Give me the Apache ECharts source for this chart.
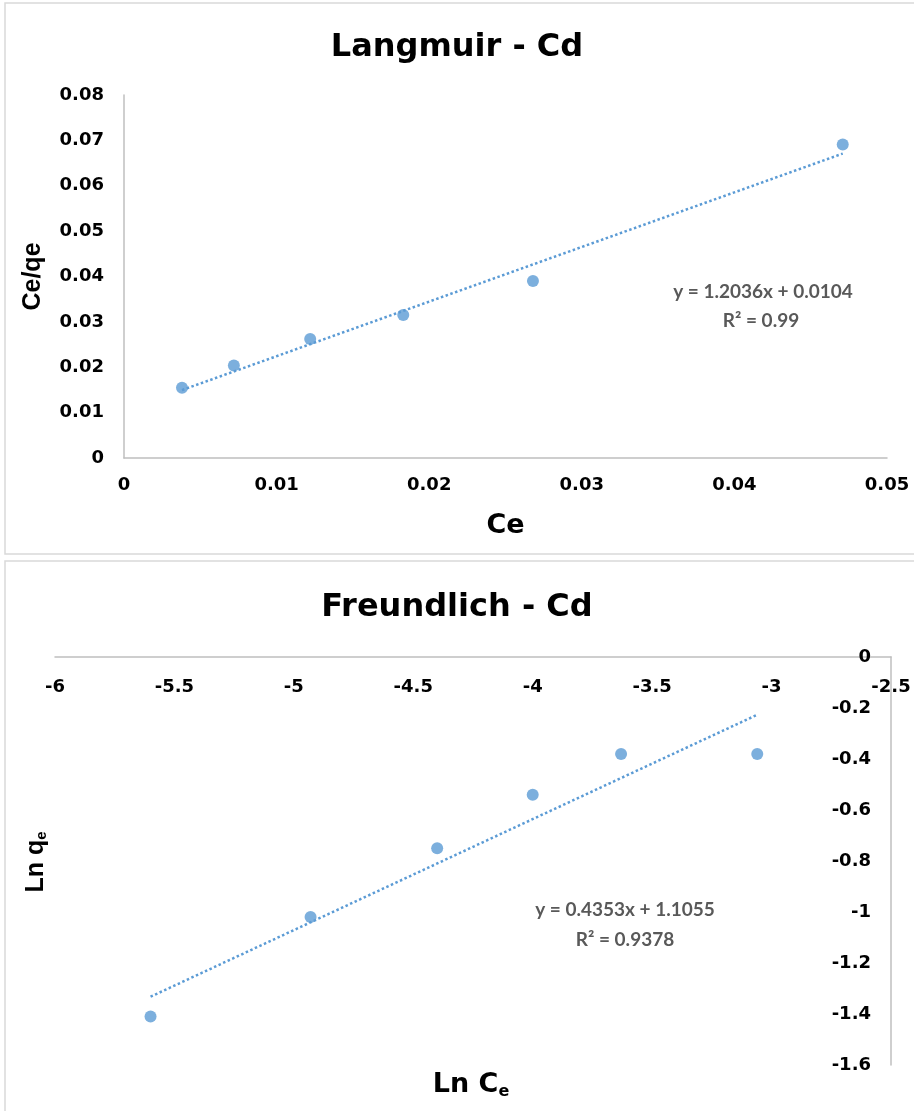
<!DOCTYPE html>
<html>
<head>
<meta charset="utf-8">
<script src="https://cdn.jsdelivr.net/npm/echarts@6/dist/echarts.min.js"></script>
<style>
  html, body { margin: 0; padding: 0; background: #fff; }
  #chart { width: 914px; height: 1111px; }
</style>
</head>
<body>
<div id="chart"></div>
<script>
// Langmuir isotherm for Cd: Ce against Ce/qe
const langCe   = [0.0038, 0.0072, 0.0122, 0.0183, 0.0268, 0.0471];
const langCeQe = [0.0155, 0.0204, 0.0262, 0.0315, 0.0390, 0.0691];
const langSlope = 1.2036, langIntercept = 0.0104, langR2 = '0.99';

// Freundlich isotherm for Cd: ln Ce against ln qe
const frLnCe = [-5.60, -4.93, -4.40, -4.00, -3.63, -3.06];
const frLnQe = [-1.41, -1.02, -0.75, -0.54, -0.38, -0.38];
const frSlope = 0.4353, frIntercept = 1.1055, frR2 = '0.9378';

const BLUE = '#5B9BD5';
const AXIS_GREY = '#bfbfbf';
const WIDE = '"DejaVu Sans", Verdana, sans-serif';
const NARROW = '"Liberation Sans", Arial, sans-serif';
const TICK_FONT = { color: '#000', fontWeight: 'bold', fontSize: 18, fontFamily: WIDE };
const TITLE_FONT = { color: '#000', fontWeight: 'bold', fontSize: 32, fontFamily: WIDE };
const EQ_FONT = 'bold 19px Lato, "Open Sans", sans-serif';

const pairs = (xs, ys) => xs.map((x, i) => [x, ys[i]]);
// Linear trendline spanning the x-range of the data
function trend(xs, m, b) {
  const lo = Math.min(...xs), hi = Math.max(...xs);
  return [[lo, m * lo + b], [hi, m * hi + b]];
}
const fmt = d => v => String(parseFloat(v.toFixed(d)));
const eqText = (m, b) => 'y = ' + m + 'x ' + (b >= 0 ? '+ ' : '- ') + Math.abs(b);

const axisLine = { show: true, onZero: false, lineStyle: { color: AXIS_GREY, width: 1.5 } };

const chart = echarts.init(document.getElementById('chart'), null, { renderer: 'canvas' });

chart.setOption({
  animation: false,
  backgroundColor: '#fff',
  title: [
    { text: 'Langmuir - Cd', left: 'center', top: 27, textStyle: TITLE_FONT },
    { text: 'Freundlich - Cd', left: 'center', top: 587, textStyle: TITLE_FONT }
  ],
  grid: [
    { left: 124, top: 95, width: 763, height: 363 },
    { left: 55, top: 657, width: 836, height: 408 }
  ],
  xAxis: [
    {
      type: 'value', gridIndex: 0, min: 0, max: 0.05, interval: 0.01,
      axisLine, axisTick: { show: false }, splitLine: { show: false },
      axisLabel: Object.assign({ margin: 18, formatter: fmt(2) }, TICK_FONT),
      name: 'Ce', nameLocation: 'middle', nameGap: 54,
      nameTextStyle: { color: '#000', fontWeight: 'bold', fontSize: 27, fontFamily: WIDE }
    },
    {
      type: 'value', gridIndex: 1, position: 'top', min: -6, max: -2.5, interval: 0.5,
      axisLine, axisTick: { show: false }, splitLine: { show: false },
      axisLabel: Object.assign({ inside: true, margin: 21, formatter: fmt(1) }, TICK_FONT)
    }
  ],
  yAxis: [
    {
      type: 'value', gridIndex: 0, min: 0, max: 0.08, interval: 0.01,
      axisLine, axisTick: { show: false }, splitLine: { show: false },
      axisLabel: Object.assign({ margin: 20, formatter: fmt(2) }, TICK_FONT),
      name: 'Ce/qe', nameLocation: 'middle', nameGap: 78,
      nameTextStyle: { color: '#000', fontWeight: 'bold', fontSize: 25, fontFamily: NARROW }
    },
    {
      type: 'value', gridIndex: 1, position: 'right', min: -1.6, max: 0, interval: 0.2,
      axisLine, axisTick: { show: false }, splitLine: { show: false },
      axisLabel: Object.assign({ inside: true, margin: 20, formatter: fmt(1) }, TICK_FONT)
    }
  ],
  series: [
    {
      type: 'line', xAxisIndex: 0, yAxisIndex: 0, z: 3,
      data: trend(langCe, langSlope, langIntercept),
      showSymbol: false, silent: true,
      lineStyle: { color: BLUE, width: 2.5, type: [2.5, 2.5] }
    },
    {
      type: 'scatter', xAxisIndex: 0, yAxisIndex: 0, z: 2,
      data: pairs(langCe, langCeQe), symbolSize: 12,
      itemStyle: { color: BLUE }
    },
    {
      type: 'line', xAxisIndex: 1, yAxisIndex: 1, z: 3,
      data: trend(frLnCe, frSlope, frIntercept),
      showSymbol: false, silent: true,
      lineStyle: { color: BLUE, width: 2.5, type: [2.5, 2.5] }
    },
    {
      type: 'scatter', xAxisIndex: 1, yAxisIndex: 1, z: 2,
      data: pairs(frLnCe, frLnQe), symbolSize: 12,
      itemStyle: { color: BLUE }
    }
  ],
  graphic: [
    // chart frames
    { type: 'rect', shape: { x: 5, y: 3, width: 920, height: 551 }, style: { fill: null, stroke: '#d9d9d9', lineWidth: 1.5 }, z: -1 },
    { type: 'rect', shape: { x: 5, y: 561, width: 920, height: 560 }, style: { fill: null, stroke: '#d9d9d9', lineWidth: 1.5 }, z: -1 },
    // trendline equations
    { type: 'text', x: 763, y: 292, style: { text: eqText(langSlope, langIntercept), font: EQ_FONT, fill: '#595959', align: 'center', verticalAlign: 'middle' } },
    { type: 'text', x: 761, y: 321, style: { text: 'R² = ' + langR2, font: EQ_FONT, fill: '#595959', align: 'center', verticalAlign: 'middle' } },
    { type: 'text', x: 625, y: 910, style: { text: eqText(frSlope, frIntercept), font: EQ_FONT, fill: '#595959', align: 'center', verticalAlign: 'middle' } },
    { type: 'text', x: 625, y: 940, style: { text: 'R² = ' + frR2, font: EQ_FONT, fill: '#595959', align: 'center', verticalAlign: 'middle' } },
    // Freundlich axis titles with subscripts
    {
      type: 'text', x: 36, y: 862, rotation: Math.PI / 2,
      style: {
        text: '{b|Ln q}{s|e}', align: 'center', verticalAlign: 'middle',
        rich: {
          b: { fontSize: 25, fontWeight: 'bold', fontFamily: NARROW, fill: '#000' },
          s: { fontSize: 15, fontWeight: 'bold', fontFamily: NARROW, fill: '#000', padding: [12, 0, 0, 0] }
        }
      }
    },
    {
      type: 'text', x: 471, y: 1085,
      style: {
        text: '{b|Ln C}{s|e}', align: 'center', verticalAlign: 'middle',
        rich: {
          b: { fontSize: 27, fontWeight: 'bold', fontFamily: WIDE, fill: '#000' },
          s: { fontSize: 16, fontWeight: 'bold', fontFamily: WIDE, fill: '#000', padding: [13, 0, 0, 0] }
        }
      }
    }
  ]
});
</script>
</body>
</html>
